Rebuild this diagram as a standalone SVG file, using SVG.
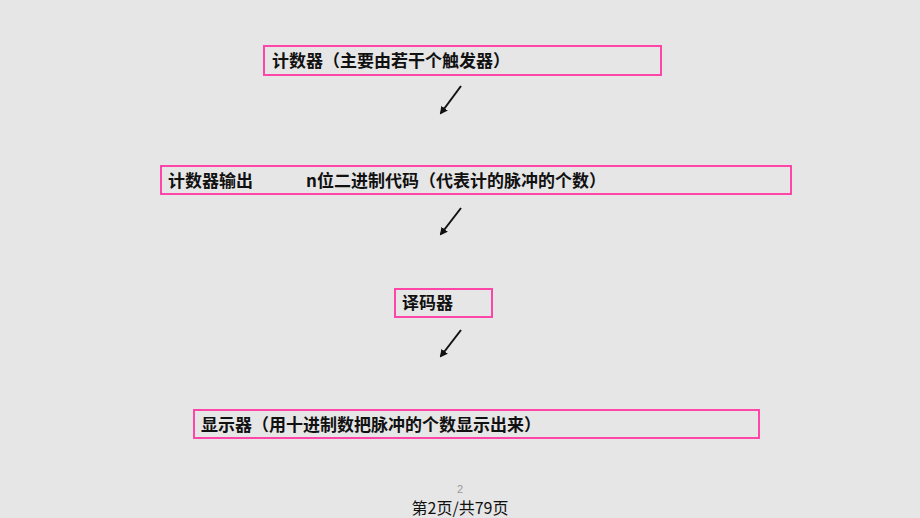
<svg xmlns="http://www.w3.org/2000/svg" width="920" height="518" viewBox="0 0 920 518">
<defs>
<style>
.box{fill:#e6e6e6;stroke:#ff45a8;stroke-width:2}
.t{font-family:"Noto Sans CJK SC","Liberation Sans",sans-serif;font-size:17px;font-weight:bold;fill:#111;text-spacing-trim:space-all;font-feature-settings:"halt" 0,"chws" 0}
.ar{stroke:#111;stroke-width:2;fill:none}
</style>
<marker id="ah" markerWidth="8" markerHeight="8" refX="6" refY="4" orient="auto" markerUnits="userSpaceOnUse">
<path d="M0,0 L8,4 L0,8 Z" fill="#111"/>
</marker>
</defs>
<rect width="920" height="518" fill="#e6e6e6"/>
<g id="n1"><rect class="box" x="264" y="46" width="397" height="29"/><text class="t" x="272" y="67">计数器（主要由若干个触发器）</text></g>
<g id="n2"><rect class="box" x="161" y="166" width="630" height="28"/><text class="t" x="168" y="187">计数器输出</text><text class="t" x="306" y="187">n位二进制代码（代表计的脉冲的个数）</text></g>
<g id="n3"><rect class="box" x="395" y="289" width="97" height="28"/><text class="t" x="402" y="309">译码器</text></g>
<g id="n4"><rect class="box" x="194" y="410" width="565" height="28"/><text class="t" x="201" y="431">显示器（用十进制数把脉冲的个数显示出来）</text></g>
<g id="connectors">
<line class="ar" x1="461" y1="86" x2="441" y2="113" stroke-width="3" marker-end="url(#ah)"/>
<line class="ar" x1="461" y1="208" x2="441" y2="234" marker-end="url(#ah)"/>
<line class="ar" x1="461" y1="330" x2="441" y2="356" marker-end="url(#ah)"/>
</g>
<text x="460" y="493" font-family="Liberation Sans,sans-serif" font-size="11" fill="#999" text-anchor="middle">2</text>
<text x="460" y="514" font-family="Noto Sans CJK SC,Liberation Sans,sans-serif" font-size="16" fill="#111" text-anchor="middle">第2页/共79页</text>
</svg>
